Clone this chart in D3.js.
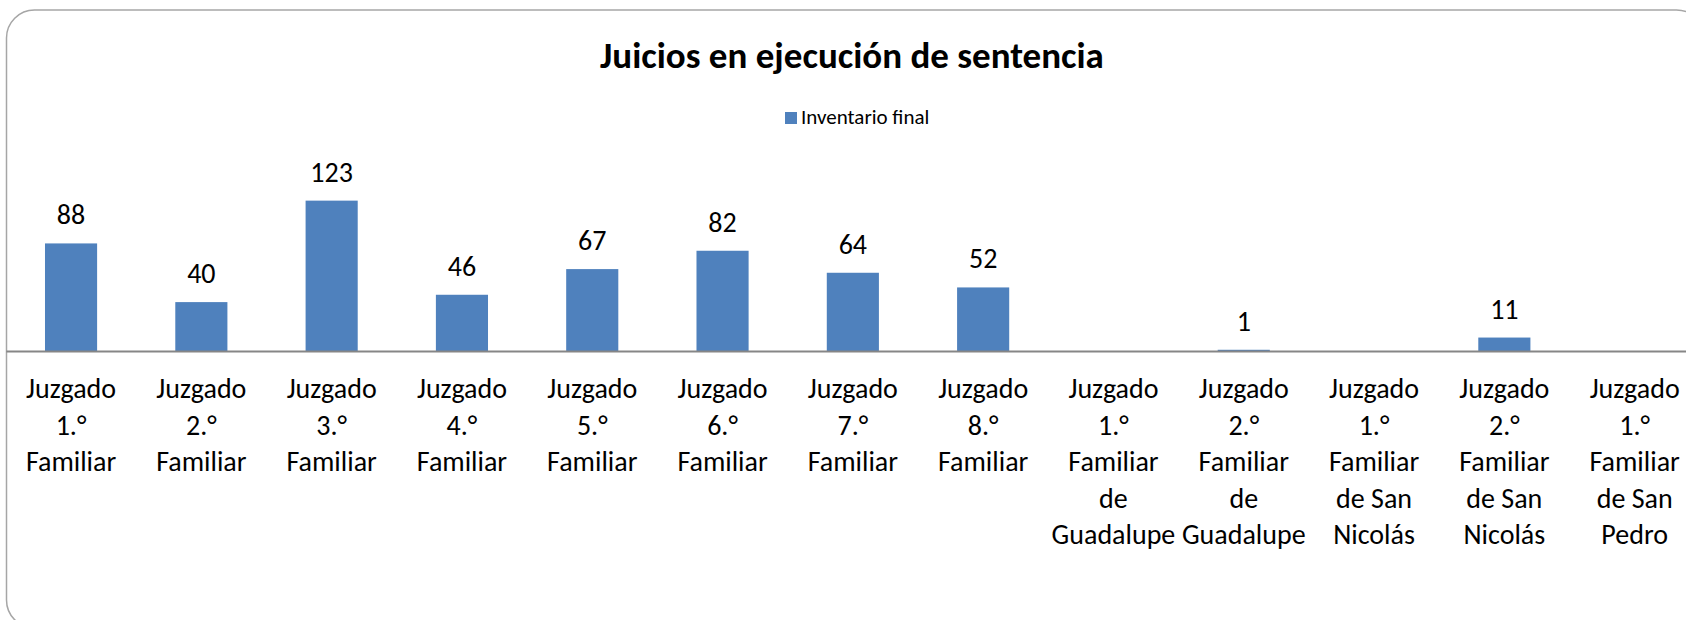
<!DOCTYPE html>
<html>
<head>
<meta charset="utf-8">
<script src="https://cdn.jsdelivr.net/npm/d3@7"></script>
<style>
    body { margin: 0; background: #fff; }
    svg text { font-family: Carlito, Calibri, Lato, sans-serif; fill: #000; }
</style>
</head>
<body>
<div id="chart"></div>
<script>
    // data
    const categories = [
        "Juzgado 1.° Familiar",
        "Juzgado 2.° Familiar",
        "Juzgado 3.° Familiar",
        "Juzgado 4.° Familiar",
        "Juzgado 5.° Familiar",
        "Juzgado 6.° Familiar",
        "Juzgado 7.° Familiar",
        "Juzgado 8.° Familiar",
        "Juzgado 1.° Familiar de Guadalupe",
        "Juzgado 2.° Familiar de Guadalupe",
        "Juzgado 1.° Familiar de San Nicolás",
        "Juzgado 2.° Familiar de San Nicolás",
        "Juzgado 1.° Familiar de San Pedro"
    ];
    const inventarioFinal = [88, 40, 123, 46, 67, 82, 64, 52, 0, 1, 0, 11, 0];
    const seriesName = "Inventario final";
    const chartTitle = "Juicios en ejecución de sentencia";

    const width = 1686, height = 620;
    const baseY = 351;

    const svg = d3.select("#chart")
        .append("svg")
        .attr("width", width)
        .attr("height", height);

    //outer frame
    svg.append("rect")
        .attr("x", 6.5)
        .attr("y", 10)
        .attr("width", 1698)
        .attr("height", 618)
        .attr("rx", 28)
        .attr("fill", "#fff")
        .attr("stroke", "#a6a6a6")
        .attr("stroke-width", 1.5);

    //scales
    const xScale = d3.scaleBand()
        .domain(categories)
        .range([5.9, 1699.8])
        .paddingInner(0.6)
        .paddingOuter(0.3);

    const yScale = d3.scaleLinear()
        .domain([0, 140])
        .range([baseY, baseY - 140 * 1.2225]);

    //title
    svg.append("text")
        .attr("x", 852)
        .attr("y", 68)
        .attr("text-anchor", "middle")
        .style("font-size", "37px")
        .style("font-weight", "bold")
        .text(chartTitle);

    //legend
    const legend = svg.append("g").attr("transform", "translate(785,112)");
    legend.append("rect")
        .attr("width", 12)
        .attr("height", 12)
        .attr("fill", "#4f81bd");
    legend.append("text")
        .attr("x", 16)
        .attr("y", 11.5)
        .style("font-size", "21px")
        .text(seriesName);

    //bars
    const data = categories.map((c, i) => ({cat: c, value: inventarioFinal[i]}));

    svg.append("g")
        .selectAll("rect")
        .data(data)
        .enter()
        .append("rect")
        .attr("x", d => xScale(d.cat))
        .attr("y", d => yScale(d.value))
        .attr("width", xScale.bandwidth())
        .attr("height", d => yScale(0) - yScale(d.value))
        .attr("fill", "#4f81bd");

    //value labels (zeros are not shown)
    svg.append("g")
        .selectAll("text")
        .data(data.filter(d => d.value > 0))
        .enter()
        .append("text")
        .attr("x", d => xScale(d.cat) + xScale.bandwidth() / 2)
        .attr("y", d => yScale(d.value) - 19)
        .attr("text-anchor", "middle")
        .style("font-size", "28px")
        .text(d => d.value);

    //x axis
    const xAxis = d3.axisBottom(xScale).tickSize(0).tickPadding(0);
    const xAxisG = svg.append("g")
        .attr("transform", `translate(0,${baseY})`)
        .call(xAxis);
    xAxisG.select(".domain")
        .attr("stroke", "#868686")
        .attr("stroke-width", 2);

    //wrap tick labels like the spreadsheet does
    const maxLabelWidth = 120;
    xAxisG.selectAll(".tick text").each(function (label) {
        const t = d3.select(this)
            .attr("y", 0)
            .attr("dy", null)
            .style("font-size", "28px")
            .attr("fill", "#000")
            .text(null);
        const words = label.split(" ");
        let lines = [];
        let line = [];
        let tspan = t.append("tspan");
        words.forEach(w => {
            line.push(w);
            tspan.text(line.join(" "));
            if (tspan.node().getComputedTextLength() > maxLabelWidth && line.length > 1) {
                line.pop();
                lines.push(line.join(" "));
                line = [w];
            }
            tspan.text(line.join(" "));
        });
        lines.push(line.join(" "));
        t.text(null);
        lines.forEach((l, i) => {
            t.append("tspan")
                .attr("x", 0)
                .attr("y", 47 + i * 36.5)
                .text(l);
        });
    });
</script>
</body>
</html>
